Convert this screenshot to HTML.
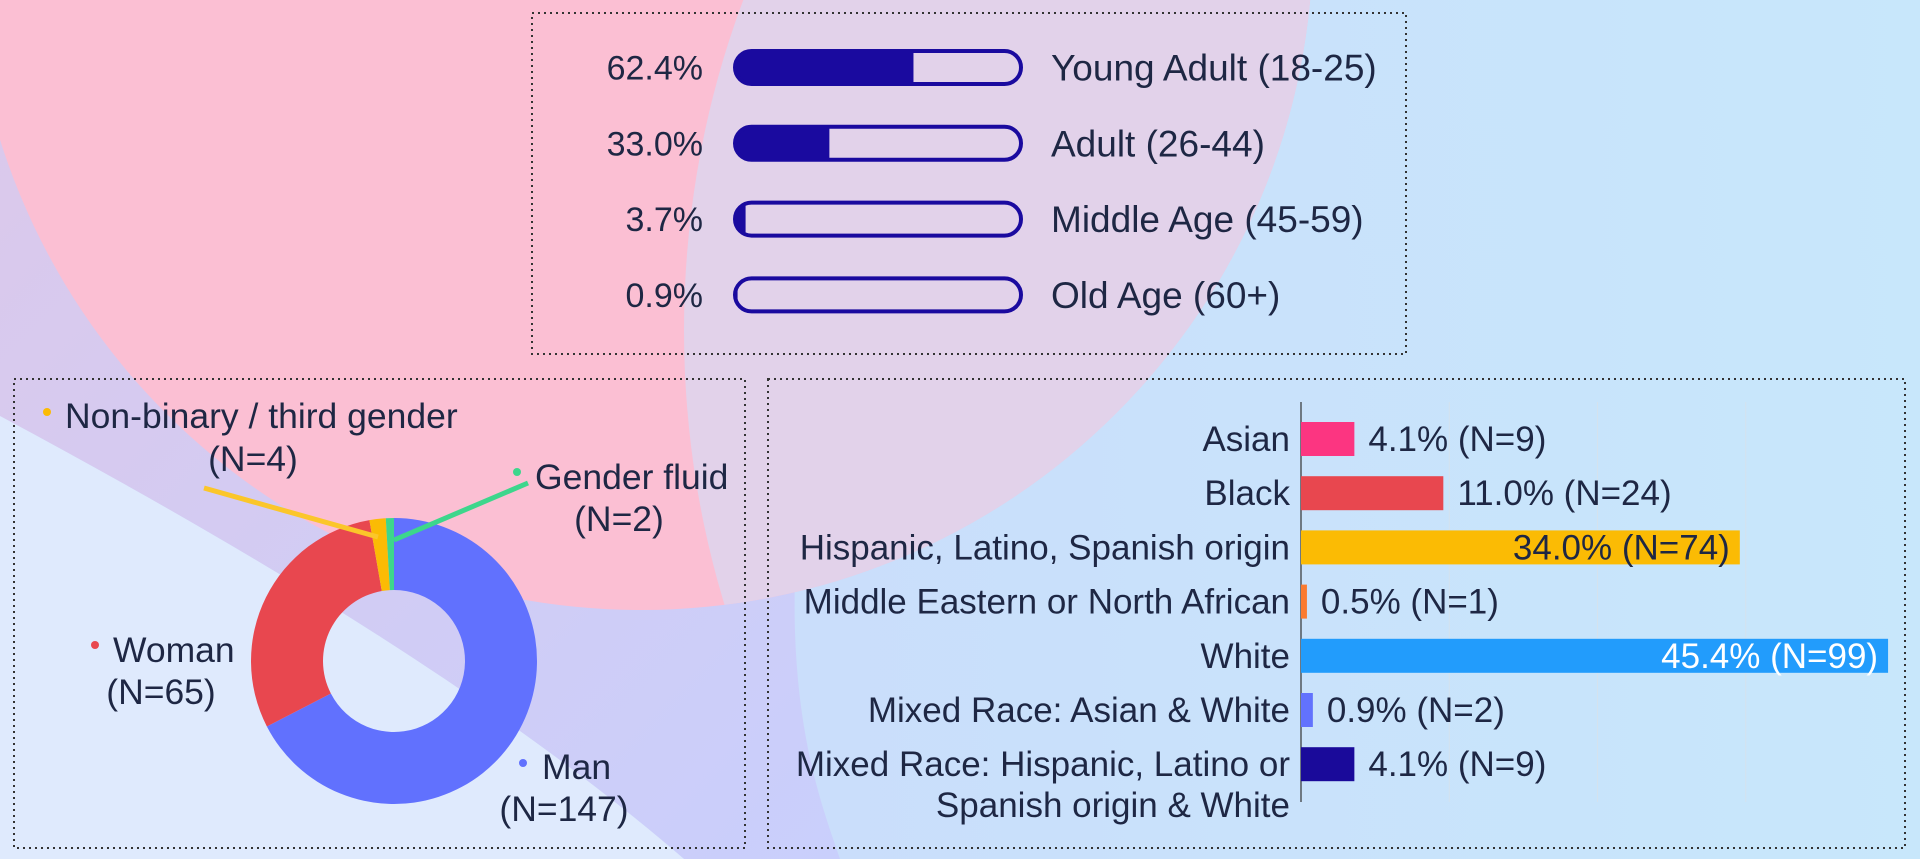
<!DOCTYPE html>
<html><head><meta charset="utf-8"><style>
html,body{margin:0;padding:0;width:1920px;height:859px;overflow:hidden;}
svg{display:block;}
text{font-family:"Liberation Sans",sans-serif;fill:#1e2744;}
</style></head><body>
<svg id="root" width="1920" height="859" viewBox="0 0 1920 859">
<defs>
<linearGradient id="lavg" x1="0" y1="0" x2="1" y2="1"><stop offset="0" stop-color="#dcc8ea"/><stop offset="1" stop-color="#c9cffc"/></linearGradient>
<linearGradient id="baseg" x1="0" y1="0" x2="1" y2="0"><stop offset="0" stop-color="#cbd6fb"/><stop offset="0.6" stop-color="#c9e1fb"/><stop offset="1" stop-color="#c8e7fb"/></linearGradient>
<clipPath id="pinkclip"><circle cx="641" cy="-62" r="672"/></clipPath>
</defs>
<g>
<rect width="1920" height="859" fill="url(#baseg)"/>
<path d="M0,0 L800,0 L800,500 C780,700 820,800 840,859 L684,859 C500,700 250,550 0,416 Z" fill="url(#lavg)"/>
<path d="M0,416 C250,550 500,700 684,859 L0,859 Z" fill="#dfeafd"/>
<circle cx="641" cy="-62" r="672" fill="#fbbfd3"/>
<ellipse cx="1350" cy="330" rx="666" ry="800" fill="#e2d2ea" clip-path="url(#pinkclip)"/>
</g>
<rect x="532" y="13" width="874" height="341" fill="none" stroke="#333" stroke-width="2" stroke-dasharray="2,4"/>
<rect x="14" y="379" width="731" height="469" fill="none" stroke="#333" stroke-width="2" stroke-dasharray="2,4"/>
<rect x="768" y="379" width="1137" height="469" fill="none" stroke="#333" stroke-width="2" stroke-dasharray="2,4"/>
<g id="age"></g>
<g id="gender"></g>
<g id="race"></g>
</svg>
<script>
const ageLabels=["Young Adult (18-25)","Adult (26-44)","Middle Age (45-59)","Old Age (60+)"];
const agePct=[62.4,33.0,3.7,0.9];
const genderLabels=["Man","Woman","Non-binary / third gender","Gender fluid"];
const genderN=[147,65,4,2];
const genderColors=["#6171fe","#e8474f","#fbbb04","#3dd68c"];
const raceLabels=[["Asian"],["Black"],["Hispanic, Latino, Spanish origin"],["Middle Eastern or North African"],["White"],["Mixed Race: Asian & White"],["Mixed Race: Hispanic, Latino or","Spanish origin & White"]];
const racePct=[4.1,11.0,34.0,0.5,45.4,0.9,4.1];
const raceN=[9,24,74,1,99,2,9];
const raceColors=["#fc3581","#e8474f","#fbbb04","#fa7a2f","#229cfc","#6272fd","#1a0a9a"];
const raceGrid=[25,50,75];

const NS="http://www.w3.org/2000/svg";
function mk(tag,attrs,parent,txt){const e=document.createElementNS(NS,tag);for(const k in attrs)e.setAttribute(k,attrs[k]);if(txt!==undefined)e.textContent=txt;parent.appendChild(e);return e;}

// Age
const ag=document.getElementById('age');
const bx0=735,bw=286,bh=33,ay0=67.5,ady=75.8;
function ageY(i){return ay0+i*ady;}
function ageW(p){return bw*p/100;}
ageLabels.forEach((l,i)=>{
  const y=ageY(i);
  let t=mk('text',{x:703,y:y+12,'font-size':34,'text-anchor':'end'},ag,agePct[i].toFixed(1)+'%');
  
  
  const cpId='agec'+i;
  const cp=mk('clipPath',{id:cpId},ag);
  mk('rect',{x:bx0,y:y-bh/2,width:bw,height:bh,rx:bh/2},cp);
  let f=mk('rect',{x:bx0,y:y-bh/2,width:ageW(agePct[i]),height:bh,fill:'#1a0a9f','clip-path':'url(#'+cpId+')'},ag);
  
  
  let o=mk('rect',{x:bx0,y:y-bh/2,width:bw,height:bh,rx:bh/2,fill:'none',stroke:'#1a0a9f','stroke-width':4},ag);
  
  
  let lt=mk('text',{x:1051,y:y+13,'font-size':37},ag,l);
  
  
});

// Gender donut
const gg=document.getElementById('gender');
const cx=394,cy=661,R=143,r=71;
const total=genderN.reduce((a,b)=>a+b,0);
function pt(rad,ang){const a=ang*Math.PI/180;return [cx+rad*Math.sin(a),cy-rad*Math.cos(a)];}
let acc=0;
genderN.forEach((n,i)=>{
  const a0=acc/total*360,a1=(acc+n)/total*360;acc+=n;
  const large=(a1-a0)>180?1:0;
  const p0=pt(R,a0),p1=pt(R,a1),q1=pt(r,a1),q0=pt(r,a0);
  const d=`M${p0[0]},${p0[1]} A${R},${R} 0 ${large} 1 ${p1[0]},${p1[1]} L${q1[0]},${q1[1]} A${r},${r} 0 ${large} 0 ${q0[0]},${q0[1]} Z`;
  let s=mk('path',{d:d,fill:genderColors[i]},gg);
  
  
});
let l1=mk('line',{x1:204,y1:488,x2:378,y2:537,stroke:'#fbc62a','stroke-width':5},gg);


let l2=mk('line',{x1:528,y1:483,x2:394,y2:540,stroke:'#3dd68c','stroke-width':5},gg);


const gLab=[
 {dot:[523,763],name:[542,767],nc:[564,809]},
 {dot:[95,645],name:[113,650],nc:[161,692]},
 {dot:[47,412],name:[65,416],nc:[253,459]},
 {dot:[517,472],name:[535,477],nc:[619,519]}];
gLab.forEach((g,i)=>{
  let d=mk('circle',{cx:g.dot[0],cy:g.dot[1],r:4,fill:genderColors[i]},gg);
  
  
  let t=mk('text',{x:g.name[0],y:g.name[1]+12,'font-size':35.5},gg,genderLabels[i]);
  
  
  let t2=mk('text',{x:g.nc[0],y:g.nc[1]+12,'font-size':35.5,'text-anchor':'middle'},gg,'(N='+genderN[i]+')');
  
  
});

// Race bars
const rg=document.getElementById('race');
const x0=1301,pxPerN=5.93,ry0=439,rdy=54.2,rbh=34;
function xs(n){return x0+n*pxPerN;}
function ys(i){return ry0+i*rdy;}
raceGrid.forEach(v=>{
  let g=mk('line',{x1:xs(v),y1:402,x2:xs(v),y2:802,stroke:'#d4e2ee','stroke-width':1},rg);
  
  
});
let ax=mk('line',{x1:x0,y1:402,x2:x0,y2:802,stroke:'#333','stroke-width':1.2},rg);


raceLabels.forEach((lines,i)=>{
  const y=ys(i);
  lines.forEach((ln,k)=>{
    let t=mk('text',{x:1290,y:y+12+k*41,'font-size':35,'text-anchor':'end'},rg,ln);
    
    
  });
  const end=xs(raceN[i]);
  let b=mk('rect',{x:x0,y:y-rbh/2,width:end-x0,height:rbh,fill:raceColors[i]},rg);
  
  
  const lab=racePct[i].toFixed(1)+'% (N='+raceN[i]+')';
  const inside=raceN[i]>50;
  let v=mk('text',{x:inside?end-10:end+14,y:y+12,'font-size':35,'text-anchor':inside?'end':'start'},rg,lab);
  if(i===4)v.setAttribute('style','fill:#ffffff');
  
  
});
</script>
</body></html>
